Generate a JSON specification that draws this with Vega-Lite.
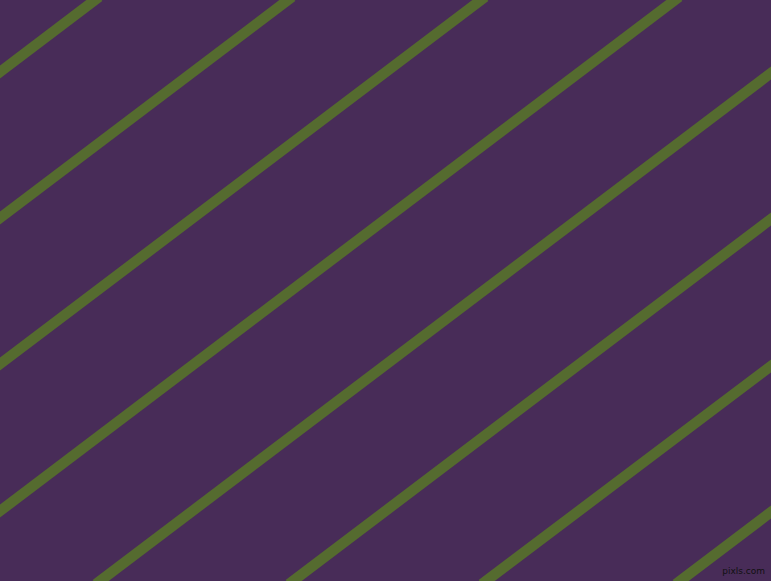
{
  "$schema": "https://vega.github.io/schema/vega-lite/v6.json",
  "width": 771,
  "height": 581,
  "autosize": {"type": "fit", "contains": "padding"},
  "padding": 0,
  "background": "#482C58",
  "view": {"stroke": null, "fill": "#482C58"},
  "data": {
    "values": [
      {"line": 1, "x": 0, "y": 72}, {"line": 1, "x": 95, "y": 0},
      {"line": 2, "x": 0, "y": 218}, {"line": 2, "x": 288, "y": 0},
      {"line": 3, "x": 0, "y": 364}, {"line": 3, "x": 481, "y": 0},
      {"line": 4, "x": 0, "y": 511}, {"line": 4, "x": 675, "y": 0},
      {"line": 5, "x": 100, "y": 581}, {"line": 5, "x": 771, "y": 73},
      {"line": 6, "x": 293, "y": 581}, {"line": 6, "x": 771, "y": 219},
      {"line": 7, "x": 486, "y": 581}, {"line": 7, "x": 771, "y": 366},
      {"line": 8, "x": 680, "y": 581}, {"line": 8, "x": 771, "y": 512}
    ]
  },
  "layer": [
    {
      "mark": {"type": "line", "color": "#556B2F", "strokeWidth": 10.5, "strokeCap": "square", "clip": true},
      "encoding": {
        "x": {"field": "x", "type": "quantitative", "scale": {"domain": [0, 771], "nice": false, "zero": false}, "axis": null},
        "y": {"field": "y", "type": "quantitative", "scale": {"domain": [0, 581], "reverse": true, "nice": false, "zero": false}, "axis": null},
        "detail": {"field": "line", "type": "nominal"}
      }
    },
    {
      "data": {"values": [{"label": "pixls.com", "x": 765, "y": 571}]},
      "mark": {"type": "text", "align": "right", "baseline": "middle", "fontSize": 9, "font": "DejaVu Sans", "color": "#111111"},
      "encoding": {
        "x": {"field": "x", "type": "quantitative"},
        "y": {"field": "y", "type": "quantitative"},
        "text": {"field": "label"}
      }
    }
  ]
}
